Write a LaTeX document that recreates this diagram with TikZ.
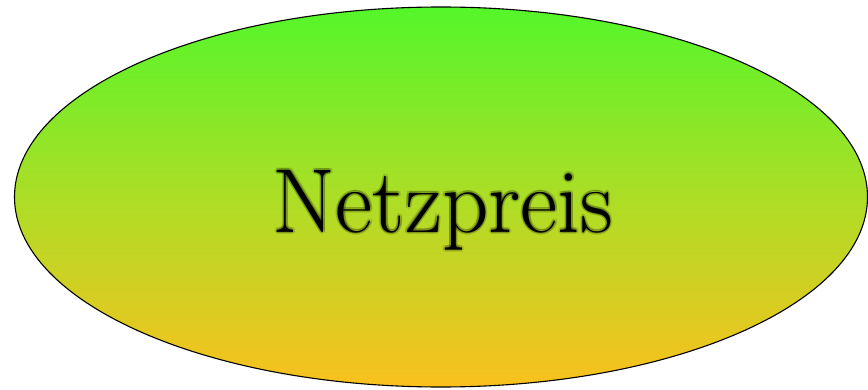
\documentclass[tikz,border=0pt]{standalone}
\usepackage{fontspec}
\usepackage{tikz}
\usetikzlibrary{shapes.geometric}
\definecolor{topgreen}{RGB}{84,246,42}
\definecolor{midlime}{RGB}{172,222,38}
\definecolor{botorange}{RGB}{250,192,30}
\tikzset{
  pricebubble/.style={
    ellipse,
    draw=black,
    line width=1.1pt,
    minimum width=853pt,
    minimum height=380pt,
    inner sep=0pt,
    top color=topgreen,
    bottom color=botorange,
    middle color=midlime
  },
  pricetext/.style={
    font=\fontsize{91}{98}\selectfont,
    text height=62pt,
    text depth=0pt,
    inner sep=0pt
  }
}
\begin{document}
\begin{tikzpicture}[x=1pt,y=1pt]
\useasboundingbox (0,0) rectangle (868,389);
\node[pricebubble] (netzpreis) at (441,192) {};
% soft glow behind the word
\foreach \dx/\dy in {-2/0,2/0,0/-2.5,0/2,1.4/-1.8,-1.4/-1.8,1.4/1.4,-1.4/1.4}
  \node[pricetext, text opacity=0.12, xshift=\dx+2, yshift=\dy-4] at (netzpreis.center) {Netzpreis};
\node[pricetext, xshift=2, yshift=-4] (word) at (netzpreis.center) {Netzpreis};
\end{tikzpicture}
\end{document}
